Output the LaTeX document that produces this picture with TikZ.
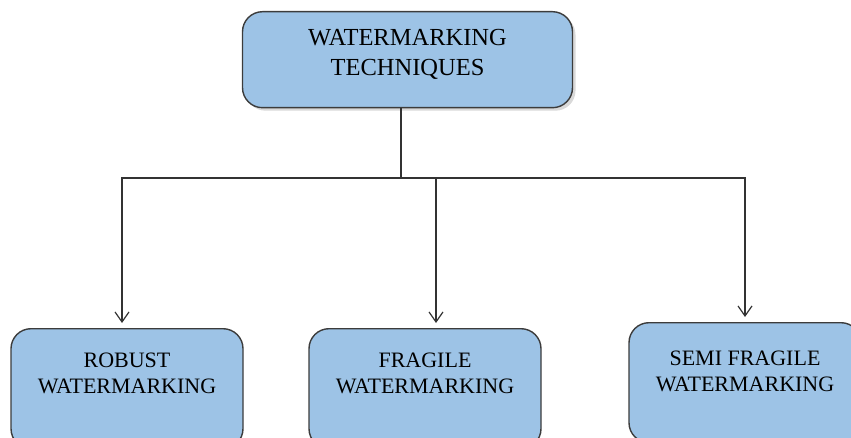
\documentclass[tikz,border=0pt]{standalone}
\usepackage{fontspec}
\setmainfont{Liberation Serif}
\usepackage{tikz}
\usetikzlibrary{arrows.meta,positioning,shadows}

\definecolor{boxfill}{HTML}{9DC3E6}
\definecolor{boxline}{HTML}{3C3C3C}
\definecolor{linkline}{HTML}{333333}

\begin{document}
\begin{tikzpicture}[
  x=0.5pt, y=-0.5pt,
  box/.style={draw=boxline, fill=boxfill, line width=0.7pt, rounded corners=10pt, align=center, anchor=north, inner sep=0pt},
  topbox/.style={box, minimum width=165pt, text height=32pt, text depth=16pt, font=\fontsize{12.25}{15}\selectfont,
    drop shadow={opacity=0.3, shadow xshift=1.5pt, shadow yshift=-1.5pt}},
  leafbox/.style={box, minimum width=116pt, text height=32.5pt, text depth=27.5pt, font=\fontsize{11}{13}\selectfont},
  link/.style={draw=linkline, line width=0.6pt},
  >={Straight Barb[length=5pt, width=7pt]}
]
\useasboundingbox (0,0) rectangle (851,438);

\node[topbox] (wm) at (407.5,11) {WATERMARKING\\TECHNIQUES};
\node[leafbox] (robust) at (127,328) {ROBUST\\WATERMARKING};
\node[leafbox] (fragile) at (425,328) {FRAGILE\\WATERMARKING};
\node[leafbox, text height=34.5pt, text depth=25.5pt] (semi) at (745,322) {SEMI FRAGILE\\WATERMARKING};

\coordinate (bus) at (401,178);

\draw[link] (wm.south -| bus) -- (bus);
\draw[link, ->, shorten >=2.5pt] (bus) -| ([xshift=-2.5pt]robust.north);
\draw[link, ->, shorten >=2.5pt] (bus) -| ([xshift=5.5pt]fragile.north);
\draw[link, ->, shorten >=2.5pt] (bus) -| (semi.north);

\end{tikzpicture}
\end{document}
